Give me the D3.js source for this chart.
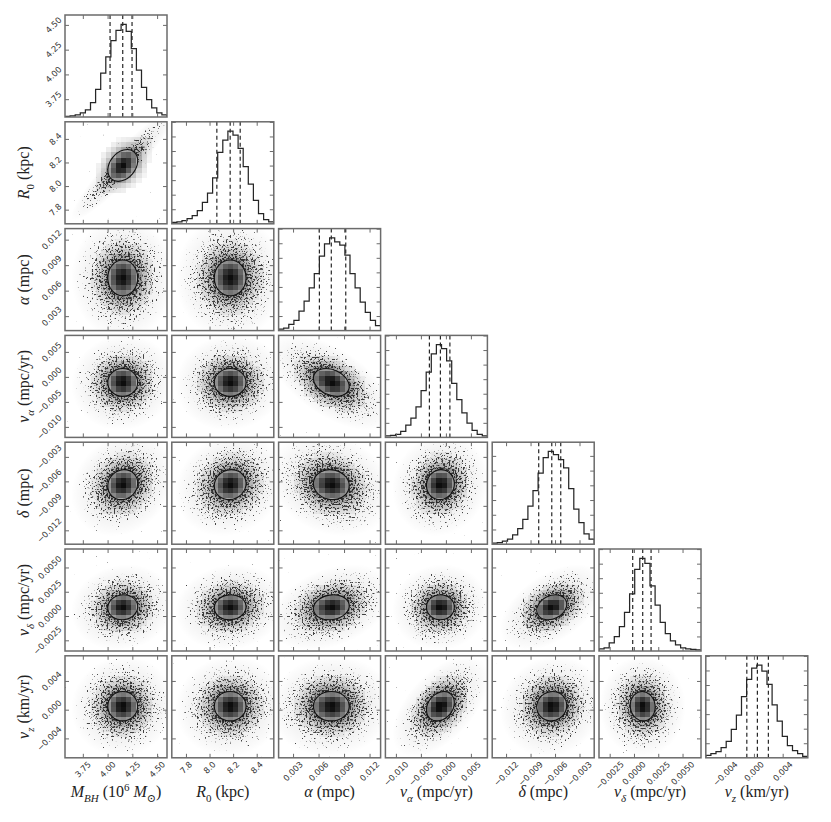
<!DOCTYPE html>
<html>
<head>
<meta charset="utf-8">
<script src="https://cdn.jsdelivr.net/npm/d3@7"></script>
<style>
  body { margin: 0; background: #fff; }
  svg { display: block; }
</style>
</head>
<body>
<svg id="chart"></svg>
<script>
const width = 831, height = 822;

// axis ranges of the seven parameters (same order for rows and columns)
const domains = [
  [3.57, 4.60], [7.68, 8.545], [0.0013, 0.0133], [-0.0121, 0.0083],
  [-0.0137, -0.0012], [-0.0036, 0.0069], [-0.0067, 0.0075]
];
const tickValues = [
  [3.75, 4.00, 4.25, 4.50], [7.8, 8.0, 8.2, 8.4], [0.003, 0.006, 0.009, 0.012],
  [-0.010, -0.005, 0.000, 0.005], [-0.012, -0.009, -0.006, -0.003],
  [-0.0025, 0.0000, 0.0025, 0.0050], [-0.004, 0.000, 0.004]
];
const tickLabels = [
  ["3.75", "4.00", "4.25", "4.50"], ["7.8", "8.0", "8.2", "8.4"],
  ["0.003", "0.006", "0.009", "0.012"], ["\u22120.010", "\u22120.005", "0.000", "0.005"],
  ["\u22120.012", "\u22120.009", "\u22120.006", "\u22120.003"],
  ["\u22120.0025", "0.0000", "0.0025", "0.0050"], ["\u22120.004", "0.000", "0.004"]
];

// quantiles (dashed lines): 16%, 50%, 84%
const q16 = [4.025, 8.062, 0.0061, -0.0033, -0.0080, -0.00013, -0.00099];
const q50 = [4.153, 8.175, 0.0075, -0.0011, -0.0064, 0.00090, 0.00048];
const q84 = [4.247, 8.260, 0.0092, 0.0008, -0.0053, 0.00176, 0.00201];

// 1D histograms, 20 bins over each range
const histMbh    = [35, 70, 140, 280, 490, 980, 1890, 3010, 4130, 5250, 5950, 6370, 5880, 4690, 3220, 2030, 1190, 630, 280, 140];
const histR0     = [105, 140, 210, 350, 560, 910, 1470, 2100, 3150, 4900, 5740, 6370, 6090, 5180, 3920, 2730, 1610, 700, 280, 140];
const histAlpha  = [105, 175, 420, 700, 1330, 2030, 2940, 3920, 5110, 5950, 6370, 6090, 5880, 5180, 3920, 2940, 1960, 1260, 700, 350];
const histVAlpha = [105, 140, 210, 420, 840, 1330, 2100, 3220, 4480, 5740, 6370, 6090, 5250, 3710, 2590, 1680, 980, 490, 210, 105];
const histDelta  = [70, 105, 210, 350, 630, 1050, 1680, 2590, 3640, 4830, 5880, 6300, 6090, 5740, 5180, 3780, 2380, 1470, 700, 350];
const histVDelta = [140, 210, 560, 980, 1680, 2660, 3920, 5600, 6370, 6020, 4480, 3150, 1960, 1190, 700, 420, 210, 140, 105, 70];
const histVz     = [175, 280, 420, 700, 1120, 1960, 2940, 4200, 5390, 6160, 6370, 5950, 5040, 3640, 2520, 1470, 840, 490, 280, 105];
const hists = [histMbh, histR0, histAlpha, histVAlpha, histDelta, histVDelta, histVz];

// pair correlations, lower triangle in row order: (1,0),(2,0),(2,1),(3,0),...
const coreCorr  = [0.30, 0.00, 0.00, 0.00, 0.00, -0.30, 0.10, 0.08, -0.08, 0.05,
                   0.05, 0.05, 0.12, 0.00, 0.25, 0.00, 0.00, 0.00, 0.25, 0.05, -0.05];
const cloudCorr = [0.93, 0.00, 0.00, 0.05, 0.05, -0.60, 0.20, 0.15, -0.20, 0.10,
                   0.10, 0.10, 0.35, 0.05, 0.50, 0.05, 0.05, 0.05, 0.55, 0.10, 0.00];

// axis titles: [text, flags] i = italic, s = subscript, p = superscript
const axisTitles = [
  [["M", "i"], ["BH", "is"], [" (10", ""], ["6", "p"], [" ", ""], ["M", "i"], ["\u2299", "s"], [")", ""]],
  [["R", "i"], ["0", "s"], [" (kpc)", ""]],
  [["\u03b1", "i"], [" (mpc)", ""]],
  [["v", "i"], ["\u03b1", "is"], [" (mpc/yr)", ""]],
  [["\u03b4", "i"], [" (mpc)", ""]],
  [["v", "i"], ["\u03b4", "is"], [" (mpc/yr)", ""]],
  [["v", "i"], ["z", "is"], [" (km/yr)", ""]]
];

const n = 7, size = 102, step = 106.8, left0 = 65, top0 = 15;
const frameColor = "#6b6b6b";
const serif = "'Liberation Serif', 'DejaVu Serif', serif";
const sans = "'DejaVu Sans', sans-serif";

const svg = d3.select("#chart").attr("width", width).attr("height", height);
svg.append("rect").attr("width", width).attr("height", height).attr("fill", "#fff");
const defs = svg.append("defs");
defs.append("clipPath").attr("id", "panelClip")
  .append("rect").attr("width", size).attr("height", size);

const grad = defs.append("radialGradient").attr("id", "cloudGrad");
[[0, 1], [0.3, 0.97], [0.5, 0.75], [0.72, 0.46], [0.9, 0.18], [1, 0]].forEach(s => {
  grad.append("stop").attr("offset", s[0]).attr("stop-color", "#000").attr("stop-opacity", s[1]);
});

function addSpeckle(id, seed) {
  const f = defs.append("filter").attr("id", id)
    .attr("filterUnits", "userSpaceOnUse")
    .attr("x", 0).attr("y", 0).attr("width", size).attr("height", size)
    .attr("color-interpolation-filters", "sRGB");
  f.append("feTurbulence").attr("type", "fractalNoise").attr("baseFrequency", 0.55)
    .attr("numOctaves", 2).attr("seed", seed).attr("result", "noise");
  f.append("feColorMatrix").attr("in", "noise").attr("type", "matrix")
    .attr("values", "0 0 0 0 0  0 0 0 0 0  0 0 0 0 0  1 0 0 0 0").attr("result", "na");
  f.append("feComposite").attr("in", "na").attr("in2", "SourceAlpha")
    .attr("operator", "arithmetic").attr("k1", 0).attr("k2", 10).attr("k3", 3.7).attr("k4", -8.2)
    .attr("result", "dots");
  f.append("feFlood").attr("flood-color", "#2a2a2a").attr("flood-opacity", 0.88).attr("result", "ink");
  f.append("feComposite").attr("in", "ink").attr("in2", "dots").attr("operator", "in");
}

const xs = domains.map(d => d3.scaleLinear().domain(d).range([0, size]));
const ys = domains.map(d => d3.scaleLinear().domain(d).range([size, 0]));
const sig = q84.map((v, k) => (v - q16[k]) / 2);
const edgesOf = d => d3.range(21).map(k => d[0] + k * (d[1] - d[0]) / 20);

// ellipse axes from a 2x2 covariance in pixel space
function ellipse(sx, sy, rho, k) {
  const a = sx * sx, c = sy * sy, b = -rho * sx * sy;
  const tr = (a + c) / 2, dd = Math.sqrt(((a - c) / 2) ** 2 + b * b);
  return {
    rx: k * Math.sqrt(tr + dd),
    ry: k * Math.sqrt(Math.max(tr - dd, 0.01)),
    ang: 0.5 * Math.atan2(2 * b, a - c) * 180 / Math.PI
  };
}

function ticks(g, xScale, xVals, yScale, yVals) {
  const axes = [
    [d3.axisBottom(xScale).tickValues(xVals), `translate(0,${size})`],
    [d3.axisTop(xScale).tickValues(xVals), null],
    [d3.axisLeft(yScale).tickValues(yVals), null],
    [d3.axisRight(yScale).tickValues(yVals), `translate(${size},0)`]
  ];
  axes.forEach(([ax, tr]) => {
    const a = g.append("g").call(ax.tickSize(-4).tickFormat(""));
    if (tr) a.attr("transform", tr);
    a.select(".domain").remove();
    a.selectAll("line").attr("stroke", frameColor).attr("stroke-width", 1);
  });
}

function rotatedLabel(g, text, x, y, side) {
  const t = g.append("text").text(text)
    .attr("font-family", sans).attr("font-size", 8.3).attr("fill", "#333")
    .attr("text-anchor", "middle").attr("dominant-baseline", "central");
  const L = t.node().getComputedTextLength();
  const B = (L + 7) / Math.SQRT2;
  const pad = 2.5;
  if (side === "bottom") t.attr("transform", `translate(${x},${y + pad + B / 2}) rotate(-45)`);
  else t.attr("transform", `translate(${x - pad - B / 2},${y}) rotate(-45)`);
}

function title(parent, parts) {
  const t = parent.append("text").attr("text-anchor", "middle")
    .attr("font-family", serif).attr("font-size", 16).attr("fill", "#222")
    .style("white-space", "pre");
  let shift = 0;
  parts.forEach(([s, f]) => {
    const target = f.includes("s") ? 4.5 : f.includes("p") ? -6.5 : 0;
    t.append("tspan").text(s)
      .attr("dy", target - shift)
      .attr("font-size", target ? 11 : 16)
      .attr("font-style", f.includes("i") ? "italic" : "normal");
    shift = target;
  });
  return t;
}

let pairIdx = 0;
for (let i = 0; i < n; i++) {
  for (let j = 0; j <= i; j++) {
    const g = svg.append("g")
      .attr("transform", `translate(${left0 + j * step},${top0 + i * step})`);
    g.append("rect").attr("width", size).attr("height", size).attr("fill", "#fff");
    const inner = g.append("g").attr("clip-path", "url(#panelClip)");
    const xScale = xs[j];

    if (i === j) {
      const counts = hists[i];
      const ymax = d3.max(counts) * 1.1;
      const yh = d3.scaleLinear().domain([0, ymax]).range([size, 0]);
      const edges = edgesOf(domains[i]);
      const line = d3.line().x(d => xScale(d[0])).y(d => yh(d[1])).curve(d3.curveStepAfter);
      const stepPts = [[edges[0], 0]].concat(counts.map((c, k) => [edges[k], c]))
        .concat([[edges[20], counts[19]], [edges[20], 0]]);
      inner.append("path").attr("d", line(stepPts))
        .attr("fill", "none").attr("stroke", "#262626").attr("stroke-width", 1.25);
      [q16[i], q50[i], q84[i]].forEach(v => {
        inner.append("line")
          .attr("x1", xScale(v)).attr("x2", xScale(v)).attr("y1", 0).attr("y2", size)
          .attr("stroke", "#262626").attr("stroke-width", 1.2).attr("stroke-dasharray", "4,3");
      });
      if (i === 0) ticks(g, xScale, tickValues[i], ys[0], tickValues[0]);
      else ticks(g, xScale, tickValues[i], yh, yh.ticks(7).filter(v => v > 0 && v < ymax));
    } else {
      const p = pairIdx++;
      const yScale = ys[i];
      const cx = xScale(q50[j]), cy = yScale(q50[i]);
      const sx = xScale(q50[j] + sig[j]) - cx;
      const sy = cy - yScale(q50[i] + sig[i]);
      const rc = coreCorr[p], rw = cloudCorr[p];

      // scattered samples: a faint haze plus speckles thinning outwards
      const ce = ellipse(sx, sy, rw, 4.7);
      const cloud = sel => sel.attr("cx", cx).attr("cy", cy).attr("rx", ce.rx).attr("ry", ce.ry)
        .attr("transform", `rotate(${ce.ang},${cx},${cy})`).attr("fill", "url(#cloudGrad)");
      inner.append("ellipse").call(cloud).attr("opacity", 0.09);
      addSpeckle("spk" + p, p + 3);
      inner.append("g").attr("filter", `url(#spk${p})`).append("ellipse").call(cloud);

      // inside of the contour is cleared, then the binned density
      const ke = ellipse(sx, sy, rc, 1.36);
      const contour = sel => sel.attr("cx", cx).attr("cy", cy).attr("rx", ke.rx).attr("ry", ke.ry)
        .attr("transform", `rotate(${ke.ang},${cx},${cy})`);
      inner.append("ellipse").call(contour).attr("fill", "#fff");

      const xe = edgesOf(domains[j]), ye = edgesOf(domains[i]);
      const cells = [];
      for (let a = 0; a < 20; a++) {
        for (let b = 0; b < 20; b++) {
          const x0 = xScale(xe[a]), x1 = xScale(xe[a + 1]);
          const y0 = yScale(ye[b + 1]), y1 = yScale(ye[b]);
          const u = ((x0 + x1) / 2 - cx) / sx, v = ((y0 + y1) / 2 - cy) / sy;
          const zc = (u * u + 2 * rc * u * v + v * v) / (1 - rc * rc);
          const zw = (u * u + 2 * rw * u * v + v * v) / (1 - rw * rw);
          const dens = Math.exp(-0.5 * zc) + 0.12 * Math.exp(-0.5 * zw / 2.56);
          cells.push({ x0, x1, y0, y1, dens });
        }
      }
      const dmax = d3.max(cells, c => c.dens);
      inner.append("g").attr("shape-rendering", "crispEdges")
        .selectAll("rect").data(cells.filter(c => c.dens / dmax > 0.04)).join("rect")
        .attr("x", c => c.x0).attr("y", c => c.y0)
        .attr("width", c => c.x1 - c.x0).attr("height", c => c.y1 - c.y0)
        .attr("fill", "#000").attr("fill-opacity", c => 0.95 * c.dens / dmax);

      inner.append("ellipse").call(contour)
        .attr("fill", "none").attr("stroke", "#111").attr("stroke-width", 1.1);

      ticks(g, xScale, tickValues[j], yScale, tickValues[i]);
    }

    g.append("rect").attr("width", size).attr("height", size)
      .attr("fill", "none").attr("stroke", frameColor).attr("stroke-width", 1.5);

    if (i === n - 1) {
      tickValues[j].forEach((v, k) => rotatedLabel(g, tickLabels[j][k], xScale(v), size, "bottom"));
    }
    if (j === 0) {
      tickValues[i].forEach((v, k) => rotatedLabel(g, tickLabels[i][k], 0, ys[i](v), "left"));
    }
  }
}

// axis titles
for (let j = 0; j < n; j++) {
  title(svg, axisTitles[j]).attr("transform", `translate(${left0 + j * step + size / 2},797)`);
}
for (let i = 1; i < n; i++) {
  title(svg, axisTitles[i]).attr("transform", `translate(29,${top0 + i * step + size / 2}) rotate(-90)`);
}
</script>
</body>
</html>
